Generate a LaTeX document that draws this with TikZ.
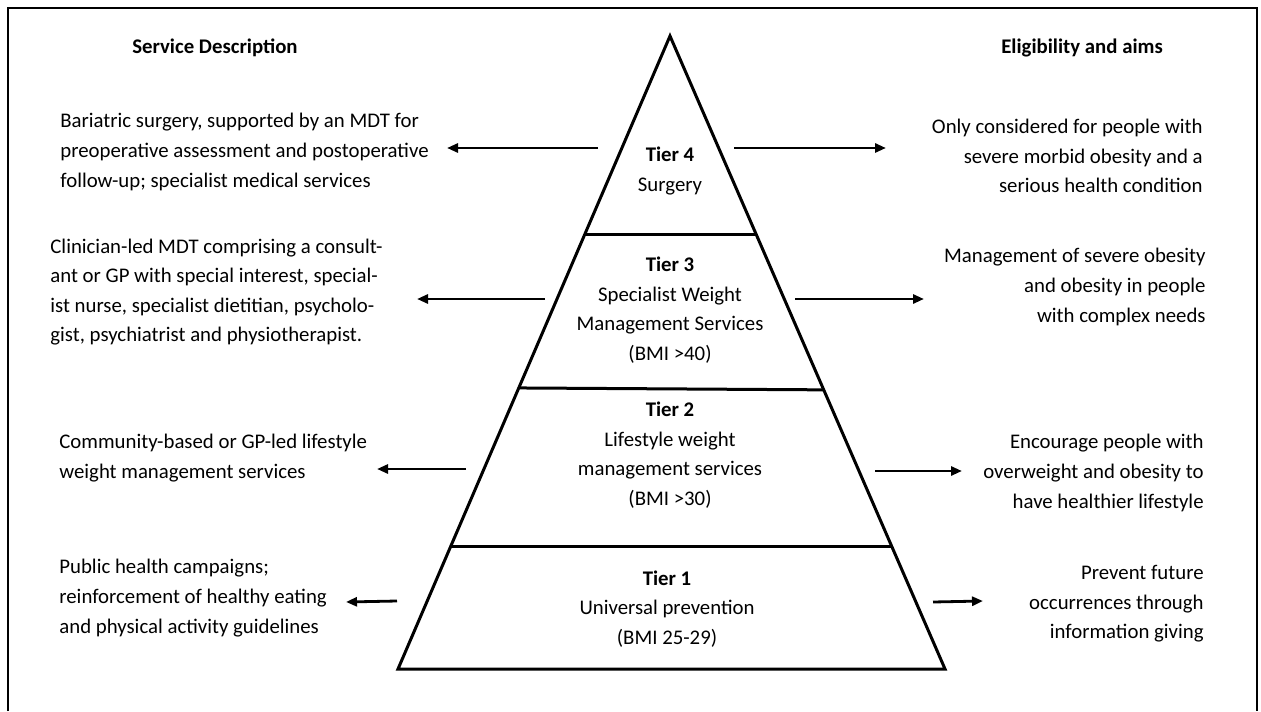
\documentclass[tikz,border=0pt]{standalone}
\usepackage{fontspec}
\setmainfont{Carlito}
\usetikzlibrary{
  positioning,
  arrows.meta,
  calc
}

\begin{document}
\begin{tikzpicture}[
  x=0.5pt,
  y=-0.5pt,
  font=\fontsize{10.4}{14.8}\selectfont,
  tier/.style={
    align=center,
    inner sep=0pt
  },
  desc/.style={
    align=left,
    anchor=west,
    inner sep=0pt
  },
  aim/.style={
    align=right,
    anchor=east,
    inner sep=0pt
  },
  head/.style={
    inner sep=0pt,
    font=\fontsize{10.4}{14.8}\selectfont\bfseries
  },
  pyr/.style={
    line width=1.5pt,
    draw=black
  },
  arrow/.style={
    -{Triangle[length=5.5pt,width=4.5pt]},
    line width=1.4pt,
    draw=black
  }
]
\useasboundingbox (0,0) rectangle (1261,711);

% Frame (open at the bottom)
\draw[line width=1pt] (8,711) -- (8,8) -- (1257,8) -- (1257,711);

% Pyramid
\coordinate (apex) at (670,36);
\coordinate (bl) at (398,669);
\coordinate (br) at (945,669);
\draw[pyr] (apex) -- (br) -- (bl) -- cycle;
\draw[pyr] ($(apex)!0.314!(bl)$) -- ($(apex)!0.314!(br)$);
\draw[pyr] ($(apex)!0.556!(bl)$) -- ($(apex)!0.559!(br)$);
\draw[pyr] ($(apex)!0.807!(bl)$) -- ($(apex)!0.807!(br)$);

% Headings
\node[head] (hdesc) at (215,48) {Service Description};
\node[head] (haim) at (1082,48) {Eligibility and aims};

% Tiers
\node[tier] (tier4) at (670,171) {\textbf{Tier 4}\\Surgery};
\node[tier] (tier3) at (670,310) {\textbf{Tier 3}\\Specialist Weight\\Management Services\\(BMI >40)};
\node[tier] (tier2) at (670,455) {\textbf{Tier 2}\\Lifestyle weight\\management services\\(BMI >30)};
\node[tier] (tier1) at (667,609) {\textbf{Tier 1}\\Universal prevention\\(BMI 25-29)};

% Service descriptions
\node[desc] (desc4) at (60,152) {Bariatric surgery, supported by an MDT for\\preoperative assessment and postoperative\\follow-up; specialist medical services};
\node[desc] (desc3) at (50,292) {Clinician-led MDT comprising a consult-\\ant or GP with special interest, special-\\ist nurse, specialist dietitian, psycholo-\\gist, psychiatrist and physiotherapist.};
\node[desc] (desc2) at (59,458) {Community-based or GP-led lifestyle\\weight management services};
\node[desc] (desc1) at (59,598) {Public health campaigns;\\reinforcement of healthy eating\\and physical activity guidelines};

% Eligibility and aims
\node[aim] (aim4) at (1203,156) {Only considered for people with\\severe morbid obesity and a\\serious health condition};
\node[aim] (aim3) at (1206,287) {Management of severe obesity\\and obesity in people\\with complex needs};
\node[aim] (aim2) at (1204,473) {Encourage people with\\overweight and obesity to\\have healthier lifestyle};
\node[aim] (aim1) at (1204,604) {Prevent future\\occurrences through\\information giving};

% Arrow ends
\coordinate (l4s) at (598,148); \coordinate (l4e) at (447,148);
\coordinate (r4s) at (734,148); \coordinate (r4e) at (886,148);
\coordinate (l3s) at (545,299); \coordinate (l3e) at (417,299);
\coordinate (r3s) at (795,299); \coordinate (r3e) at (924,299);
\coordinate (l2s) at (466,469); \coordinate (l2e) at (377,469);
\coordinate (r2s) at (875,471); \coordinate (r2e) at (962,471);
\coordinate (l1s) at (397,601); \coordinate (l1e) at (346,602);
\coordinate (r1s) at (933,602); \coordinate (r1e) at (983,601);

% Arrows
\draw[arrow] (l4s) -- (l4e);
\draw[arrow] (r4s) -- (r4e);
\draw[arrow] (l3s) -- (l3e);
\draw[arrow] (r3s) -- (r3e);
\draw[arrow] (l2s) -- (l2e);
\draw[arrow] (r2s) -- (r2e);
\draw[arrow] (l1s) -- (l1e);
\draw[arrow] (r1s) -- (r1e);

\end{tikzpicture}
\end{document}
